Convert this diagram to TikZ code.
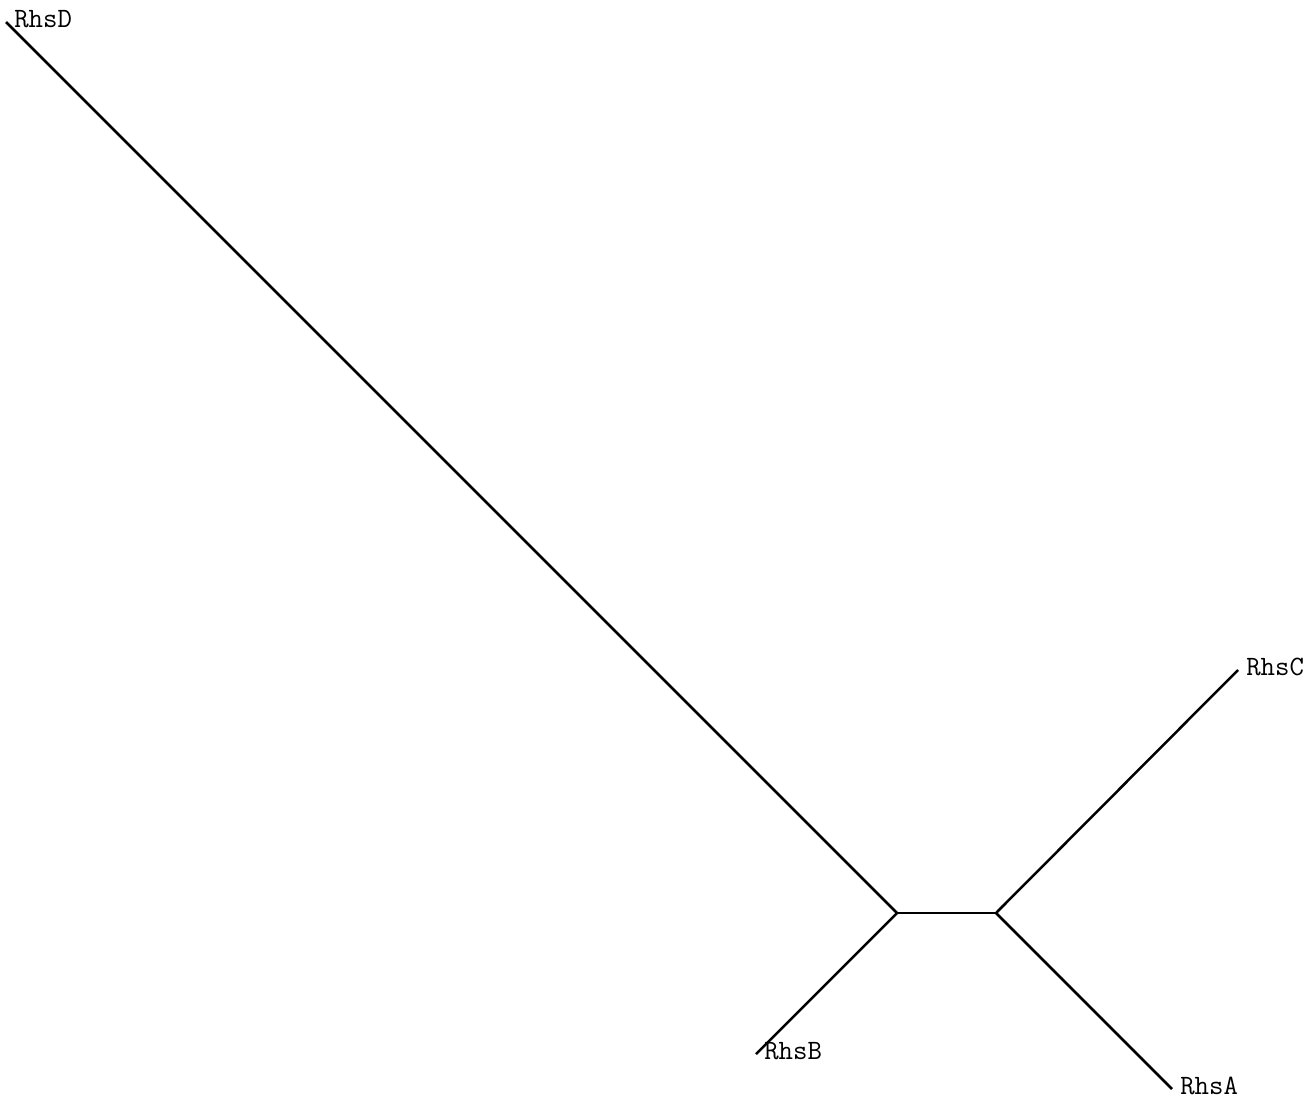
\documentclass[tikz,border=0pt]{standalone}
\tikzset{
  every picture/.style={line width=2.5pt},
  branch/.style={draw=black, line cap=butt},
  leaf/.style={font=\ttfamily\fontsize{28}{28}\selectfont, anchor=base west, inner sep=0pt, xshift=7pt, yshift=-5pt},
}
\begin{document}
\begin{tikzpicture}[x=1pt, y=-1pt]
  \useasboundingbox (0,0) rectangle (1315,1101);
  % inner nodes
  \coordinate (in1) at (897,913);
  \coordinate (in2) at (996,913);
  % tips
  \coordinate (tipD) at (6,22);
  \coordinate (tipC) at (1238,670);
  \coordinate (tipB) at (756,1054);
  \coordinate (tipA) at (1172,1089);
  \draw[branch] (in1) -- (in2);
  \draw[branch] (in1) -- (tipD);
  \draw[branch] (in1) -- (tipB);
  \draw[branch] (in2) -- (tipC);
  \draw[branch] (in2) -- (tipA);
  \node[leaf] (labD) at (tipD) {RhsD};
  \node[leaf] (labC) at (tipC) {RhsC};
  \node[leaf] (labB) at (tipB) {RhsB};
  \node[leaf] (labA) at (tipA) {RhsA};
\end{tikzpicture}
\end{document}
